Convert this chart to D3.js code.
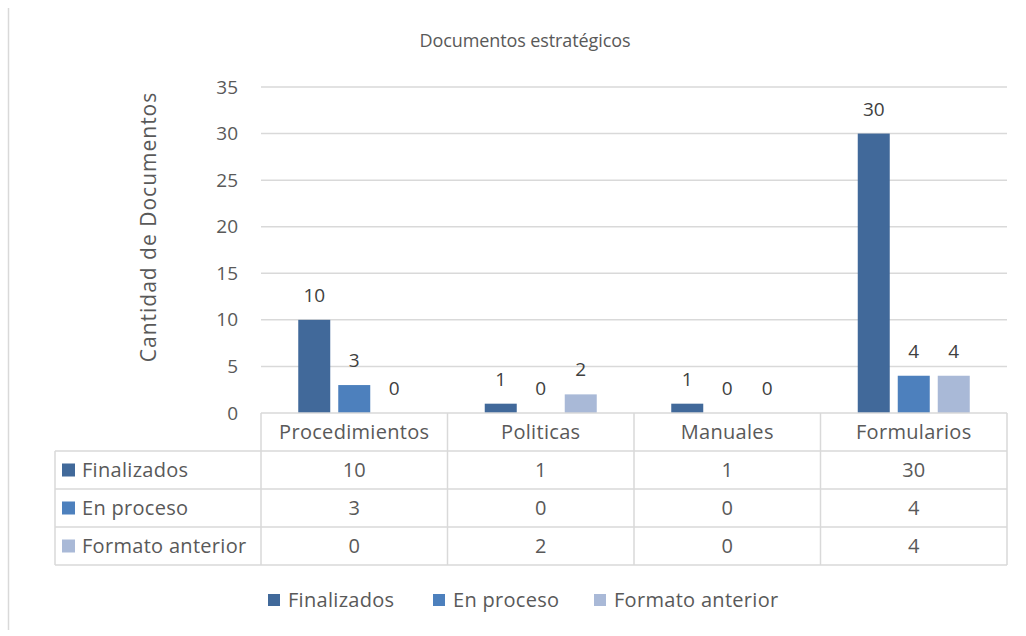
<!DOCTYPE html>
<html><head><meta charset="utf-8">
<script src="https://cdn.jsdelivr.net/npm/d3@7"></script>
<style>body{margin:0;background:#fff}svg{display:block;font-family:"Open Sans",sans-serif}</style>
</head><body>
<svg id="c" width="1026" height="636"></svg>
<script>
const categories = ["Procedimientos","Politicas","Manuales","Formularios"];
const seriesNames = ["Finalizados","En proceso","Formato anterior"];
const finalizados = [10,1,1,30];
const enProceso = [3,0,0,4];
const formatoAnterior = [0,2,0,4];
const yTicks = [0,5,10,15,20,25,30,35];
const colors = ["#41699a","#4d80bd","#a9b9d7"];
const seriesValues = [finalizados, enProceso, formatoAnterior];

const svg = d3.select("#c");
const txt = "#595959", grid = "#d9d9d9";
const L = 261, R = 1007, T = 87, B = 413;
const tableLeft = 55, rowH = 38;
const FS = 20, LS = 0.3;

// outer left border
svg.append("line").attr("x1",8.5).attr("x2",8.5).attr("y1",8).attr("y2",630).attr("stroke",grid).attr("stroke-width",1.5);

svg.append("text").attr("x",525).attr("y",47).attr("text-anchor","middle").attr("fill",txt)
  .attr("font-size",18).attr("letter-spacing",-0.1).text("Documentos estratégicos");

const y = d3.scaleLinear().domain([0,35]).range([B,T]);
const x0 = d3.scaleBand().domain(categories).range([L,R]);
const x1 = d3.scaleBand().domain(seriesNames).range([0,112]).paddingInner(0.2);

// gridlines
svg.append("g").selectAll("line").data(yTicks.filter(d=>d>0)).join("line")
  .attr("x1",L).attr("x2",R).attr("y1",d=>y(d)).attr("y2",d=>y(d))
  .attr("stroke",grid).attr("stroke-width",1.5);

// y axis
const ya = svg.append("g").attr("transform",`translate(${L},0)`)
  .call(d3.axisLeft(y).tickValues(yTicks).tickSize(0).tickPadding(23));
ya.select(".domain").remove();
ya.selectAll("text").attr("fill",txt).attr("font-size",19).attr("font-family","'Open Sans',sans-serif");

svg.append("text").attr("transform",`translate(156,227) rotate(-90)`).attr("text-anchor","middle")
  .attr("fill",txt).attr("font-size",21).attr("letter-spacing",1).text("Cantidad de Documentos");

// bars
const groups = svg.append("g").selectAll("g").data(categories).join("g")
  .attr("transform",d=>`translate(${x0(d)+x0.bandwidth()/2-56},0)`);
groups.selectAll("rect").data((c,i)=>seriesNames.map((s,j)=>({s,v:seriesValues[j][i],j}))).join("rect")
  .attr("x",d=>x1(d.s)).attr("width",x1.bandwidth())
  .attr("y",d=>y(d.v)).attr("height",d=>B-y(d.v)).attr("fill",d=>colors[d.j]);
groups.selectAll("text").data((c,i)=>seriesNames.map((s,j)=>({s,v:seriesValues[j][i],j}))).join("text")
  .attr("x",d=>x1(d.s)+x1.bandwidth()/2).attr("y",d=>y(d.v)-18)
  .attr("text-anchor","middle").attr("fill","#404040").attr("font-size",19).text(d=>d.v);

// data table
const tb = svg.append("g").attr("stroke",grid).attr("stroke-width",1.5).attr("fill","none");
tb.append("line").attr("x1",L).attr("x2",R).attr("y1",B).attr("y2",B);
for(let r=1;r<=4;r++){ tb.append("line").attr("x1",tableLeft).attr("x2",R).attr("y1",B+r*rowH).attr("y2",B+r*rowH); }
tb.append("line").attr("x1",tableLeft).attr("x2",tableLeft).attr("y1",B+rowH).attr("y2",B+4*rowH);
categories.forEach(c=>{ tb.append("line").attr("x1",x0(c)).attr("x2",x0(c)).attr("y1",B).attr("y2",B+4*rowH); });
tb.append("line").attr("x1",R).attr("x2",R).attr("y1",B).attr("y2",B+4*rowH);

svg.append("g").selectAll("text").data(categories).join("text")
  .attr("x",d=>x0(d)+x0.bandwidth()/2).attr("y",B+rowH/2+7).attr("text-anchor","middle")
  .attr("fill",txt).attr("font-size",FS).attr("letter-spacing",LS).text(d=>d);

seriesNames.forEach((s,j)=>{
  const cy = B+(j+1)*rowH+rowH/2;
  svg.append("rect").attr("x",62).attr("y",cy-6.5).attr("width",13).attr("height",13).attr("fill",colors[j]);
  svg.append("text").attr("x",82).attr("y",cy+7).attr("fill",txt).attr("font-size",FS).attr("letter-spacing",LS).text(s);
  categories.forEach((c,i)=>{
    svg.append("text").attr("x",x0(c)+x0.bandwidth()/2).attr("y",cy+7).attr("text-anchor","middle")
      .attr("fill",txt).attr("font-size",FS).text(seriesValues[j][i]);
  });
});

// legend
const legX = [268,433,594];
seriesNames.forEach((s,j)=>{
  svg.append("rect").attr("x",legX[j]).attr("y",594).attr("width",12).attr("height",12).attr("fill",colors[j]);
  svg.append("text").attr("x",legX[j]+20).attr("y",607).attr("fill",txt).attr("font-size",FS).attr("letter-spacing",LS).text(s);
});
</script>
</body></html>
